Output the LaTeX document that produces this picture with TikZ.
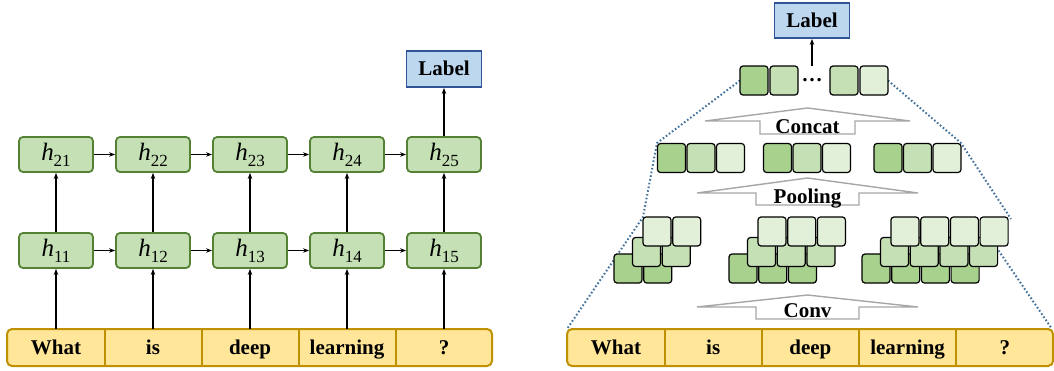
\documentclass[tikz,border=0pt]{standalone}
\usepackage{fontspec}
\setmainfont{Liberation Serif}
\usepackage{tikz}
\usetikzlibrary{arrows.meta,positioning}
\definecolor{wordfill}{HTML}{FFE699}
\definecolor{wordline}{HTML}{BF9000}
\definecolor{hfill}{HTML}{C5E0B4}
\definecolor{hline}{HTML}{548235}
\definecolor{lblfill}{HTML}{BDD7EE}
\definecolor{lblline}{HTML}{2F5597}
\definecolor{sqdark}{HTML}{A9D18E}
\definecolor{sqmid}{HTML}{C5E0B4}
\definecolor{sqlight}{HTML}{E2F0D9}
\definecolor{zoomblue}{HTML}{41719C}
\definecolor{flowgray}{HTML}{A6A6A6}
\newcommand{\hst}[1]{{\fontsize{25}{25}\selectfont\itshape h}\raisebox{-6pt}{\fontsize{17}{17}\selectfont #1}}

\begin{document}
\begin{tikzpicture}[x=1pt,y=-1pt,
  wordcell/.style={minimum width=97pt,minimum height=36pt,inner sep=0pt,text height=16pt,text depth=3pt,font=\fontsize{21}{24}\selectfont\bfseries},
  hcell/.style={draw=hline,fill=hfill,line width=1.8pt,rounded corners=4pt,minimum width=74pt,minimum height=35pt,inner sep=0pt},
  labelbox/.style={draw=lblline,fill=lblfill,line width=1.8pt,minimum width=75pt,minimum height=36pt,inner sep=0pt,text height=16pt,text depth=3pt,font=\fontsize{21}{24}\selectfont\bfseries},
  sq/.style={draw=black,line width=1.2pt,rounded corners=3pt,minimum width=28pt,minimum height=29pt,inner sep=0pt},
  flow/.style={-{Stealth[length=6pt,width=4.5pt]},line width=1.6pt},
  fatarrow/.style={draw=flowgray,fill=white,line width=1.4pt},
  zoomline/.style={zoomblue,line width=2pt,dash pattern=on 1.6pt off 2.2pt},
  wordbar/.style={draw=wordline,fill=wordfill,line width=2pt,rounded corners=5pt}
]
\useasboundingbox (0,0) rectangle (1054,370);

% RNN side: input words
\draw[wordbar] (7,329) rectangle (492,366);
\foreach \w [count=\i] in {What,is,deep,learning,?} {
    \node[wordcell] (w\i) at ({56+97*(\i-1)},347.5) {\w};
}
\foreach \i in {1,...,4} {
    \draw[wordline,line width=2pt] (w\i.north east) -- (w\i.south east);
}

% two hidden layers
\foreach \i in {1,...,5} {
    \node[hcell] (h1\i) at ({56+97*(\i-1)},250.5) {\hst{1\i}};
    \node[hcell] (h2\i) at ({56+97*(\i-1)},154.5) {\hst{2\i}};
}
\node[labelbox] (lbl) at (444,69) {Label};

\foreach \i in {1,...,5} {
    \draw[flow] (w\i.north) -- (h1\i.south);
    \draw[flow] (h1\i.north) -- (h2\i.south);
}
\foreach \i/\j in {1/2,2/3,3/4,4/5} {
    \draw[flow] (h1\i.east) -- (h1\j.west);
    \draw[flow] (h2\i.east) -- (h2\j.west);
}
\draw[flow] (h25.north) -- (lbl.south);

% CNN side: zoom lines behind everything
\draw[zoomline] (740,80.5) -- (657,143) -- (643,217) -- (567,329);
\draw[zoomline] (888,80.5) -- (961,143) -- (1011,219);
\draw[zoomline] (990,238) -- (1052,329);

% input words
\draw[wordbar] (567,329) rectangle (1053,366);
\foreach \w [count=\i] in {What,is,deep,learning,?} {
    \node[wordcell] (v\i) at ({616+97.2*(\i-1)},347.5) {\w};
}
\foreach \i in {1,...,4} {
    \draw[wordline,line width=2pt] (v\i.north east) -- (v\i.south east);
}

% hollow arrows between stages
\foreach \tip/\base/\bot/\hw/\sw/\txt/\nm/\bl in {108/121/134/102.5/47.5/Concat/concat/133,
    178/193/205/110.5/51.5/Pooling/pool/203,
    295/307/319/110.5/51.5/Conv/conv/317} {
    \draw[fatarrow] (807.5,\tip) -- ({807.5+\hw},\base) -- ({807.5+\sw},\base) -- ({807.5+\sw},\bot)
        -- ({807.5-\sw},\bot) -- ({807.5-\sw},\base) -- ({807.5-\hw},\base) -- cycle;
    \node[anchor=base,inner sep=0pt,font=\fontsize{21}{24}\selectfont\bfseries] (\nm) at (807.5,\bl) {\txt};
}

% convolution outputs, three filter widths
\foreach \gx/\n [count=\g] in {628/2,743/3,876/4} {
    \foreach \k in {1,...,\n} {
        \node[sq,fill=sqdark] (cb\g\k) at ({\gx+29.7*(\k-1)},268.5) {};
    }
    \foreach \k in {1,...,\n} {
        \node[sq,fill=sqmid] (cm\g\k) at ({\gx+18.5+29.7*(\k-1)},252) {};
    }
    \foreach \k in {1,...,\n} {
        \node[sq,fill=sqlight] (ct\g\k) at ({\gx+29+29.7*(\k-1)},231.5) {};
    }
}

% pooled features
\foreach \gx [count=\g] in {671.5,777.5,888} {
    \node[sq,fill=sqdark] (p\g1) at (\gx,158) {};
    \node[sq,fill=sqmid] (p\g2) at ({\gx+29.5},158) {};
    \node[sq,fill=sqlight] (p\g3) at ({\gx+59},158) {};
}

% concatenated vector
\node[sq,fill=sqdark] (t1) at (754,80.5) {};
\node[sq,fill=sqmid] (t2) at (784,80.5) {};
\node[inner sep=0pt,minimum height=28pt,font=\fontsize{21}{24}\selectfont\bfseries] (dots) at (812,80.5) {…};
\node[sq,fill=sqmid] (t3) at (844,80.5) {};
\node[sq,fill=sqlight] (t4) at (874,80.5) {};

\node[labelbox,minimum height=35pt] (rlbl) at (812,20.5) {Label};
\draw[flow] (dots.north) -- (rlbl.south);
\end{tikzpicture}
\end{document}
